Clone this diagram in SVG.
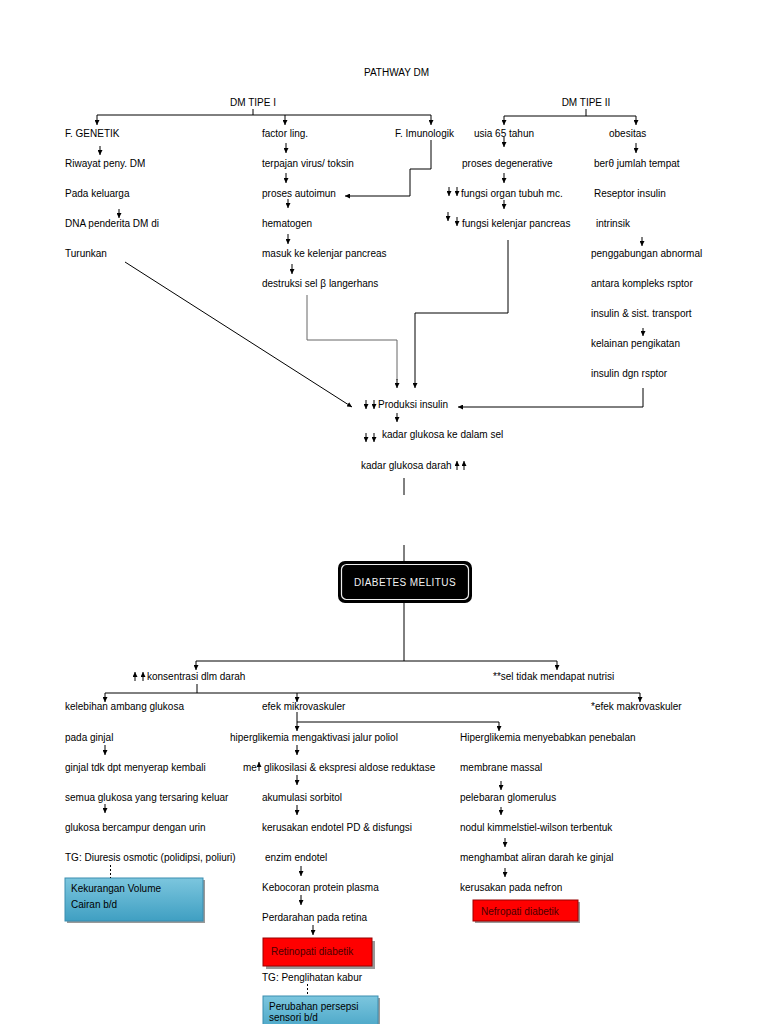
<svg xmlns="http://www.w3.org/2000/svg" width="768" height="1024" viewBox="0 0 768 1024">
<defs>
<style>
text{font-family:"Liberation Sans",Arial,sans-serif;font-size:10px;fill:#000}
.c{stroke:#000;stroke-width:1;fill:none}
.g{stroke:#666;stroke-width:1;fill:none}
.a{stroke:#000;stroke-width:1;fill:none;marker-end:url(#ah)}
.s{stroke:#000;stroke-width:1;fill:none;marker-end:url(#sh)}
.d{stroke:#000;stroke-width:1;stroke-dasharray:2,2;fill:none}
.blue{fill:url(#bg);stroke:#3a8db0;stroke-width:1}
.red{fill:#ff0000;stroke:#900;stroke-width:1}
.sh{fill:#999}
.rt{fill:#4a0000}
.w{fill:#f2f2f2;font-size:10px;letter-spacing:0.4px}
</style>
<linearGradient id="bg" x1="0" y1="0" x2="0" y2="1">
<stop offset="0" stop-color="#7cc6de"/>
<stop offset="1" stop-color="#3f9fc2"/>
</linearGradient>
<marker id="ah" viewBox="0 0 6 6" refX="6" refY="3" markerWidth="5" markerHeight="5" markerUnits="userSpaceOnUse" orient="auto">
<path d="M0,0 L6,3 L0,6 z" fill="#000"/>
</marker>
<marker id="sh" viewBox="0 0 6 6" refX="6" refY="3" markerWidth="5" markerHeight="5" markerUnits="userSpaceOnUse" orient="auto">
<path d="M0,0 L6,3 L0,6 z" fill="#000"/>
</marker>
</defs>
<rect width="768" height="1024" fill="#fff"/>

<g id="title"><text x="364" y="76">PATHWAY DM</text></g>
<g id="dm1"><text x="253" y="106" text-anchor="middle">DM TIPE I</text></g>
<g id="dm2"><text x="586" y="106" text-anchor="middle">DM TIPE II</text></g>

<g id="genetik"><text x="65" y="136.5">F. GENETIK</text></g>
<g id="riwayat"><text x="65" y="166.5">Riwayat peny. DM</text></g>
<g id="keluarga"><text x="65" y="196.5">Pada keluarga</text></g>
<g id="dna"><text x="65" y="226.5">DNA penderita DM di</text></g>
<g id="turunkan"><text x="65" y="256.5">Turunkan</text></g>

<g id="factor"><text x="262" y="136.5">factor ling.</text></g>
<g id="terpajan"><text x="262" y="166.5">terpajan virus/ toksin</text></g>
<g id="autoimun"><text x="262" y="196.5">proses autoimun</text></g>
<g id="hematogen"><text x="262" y="226.5">hematogen</text></g>
<g id="masuk"><text x="262" y="256.5">masuk ke kelenjar pancreas</text></g>
<g id="destruksi"><text x="262" y="286.5">destruksi sel β langerhans</text></g>
<g id="imunologik"><text x="395" y="136.5">F. Imunologik</text></g>

<g id="usia"><text x="474" y="136.5">usia 65 tahun</text></g>
<g id="degeneratif"><text x="462" y="166.5">proses degenerative</text></g>
<g id="organ"><text x="461" y="196.5">fungsi organ tubuh mc.</text></g>
<g id="kelenjar"><text x="462" y="226.5">fungsi kelenjar pancreas</text></g>

<g id="obesitas"><text x="609" y="136.5">obesitas</text></g>
<g id="berkurang"><text x="594" y="166.5">berθ jumlah tempat</text></g>
<g id="reseptor"><text x="594" y="196.5">Reseptor insulin</text></g>
<g id="intrinsik"><text x="596" y="226.5">intrinsik</text></g>
<g id="penggabungan"><text x="591" y="256.5">penggabungan abnormal</text></g>
<g id="antara"><text x="591" y="286.5">antara kompleks rsptor</text></g>
<g id="transport"><text x="591" y="316.5">insulin &amp; sist. transport</text></g>
<g id="kelainan"><text x="591" y="346.5">kelainan pengikatan</text></g>
<g id="dgn"><text x="591" y="376.5">insulin dgn rsptor</text></g>

<g id="produksi"><text x="378" y="407.5">Produksi insulin</text></g>
<g id="kadarsel"><text x="382" y="438">kadar glukosa ke dalam sel</text></g>
<g id="kadardarah"><text x="361" y="468.5">kadar glukosa darah</text></g>

<g id="dmbox">
<rect x="338" y="561" width="134" height="42" rx="7" fill="#000"/>
<rect x="341.5" y="564.5" width="127" height="35" rx="5" fill="none" stroke="#eee" stroke-width="1.2"/>
<text class="w" x="405" y="585.5" text-anchor="middle">DIABETES MELITUS</text>
</g>

<g id="konsentrasi"><text x="147" y="679.5">konsentrasi dlm darah</text></g>
<g id="nutrisi"><text x="493" y="679.5">**sel tidak mendapat nutrisi</text></g>
<g id="kelebihan"><text x="65" y="709.5">kelebihan ambang glukosa</text></g>
<g id="mikro"><text x="262" y="709.5">efek mikrovaskuler</text></g>
<g id="makro"><text x="591" y="709.5">*efek makrovaskuler</text></g>

<g id="ginjal"><text x="65" y="740.5">pada ginjal</text></g>
<g id="menyerap"><text x="65" y="770.5">ginjal tdk dpt menyerap kembali</text></g>
<g id="semua"><text x="65" y="800.5">semua glukosa yang tersaring keluar</text></g>
<g id="urin"><text x="65" y="830.5">glukosa bercampur dengan urin</text></g>
<g id="diuresis"><text x="65" y="860.5">TG: Diuresis osmotic (polidipsi, poliuri)</text></g>
<g id="kekurangan">
<rect x="67" y="880" width="138" height="43" class="sh"/>
<rect x="65" y="878" width="138" height="43" class="blue"/>
<text x="71" y="891.5">Kekurangan Volume</text>
<text x="71" y="907.5">Cairan b/d</text>
</g>

<g id="poliol"><text x="230" y="740.5">hiperglikemia mengaktivasi jalur poliol</text></g>
<g id="glikosilasi"><text x="243" y="770.5">me</text><text x="264" y="770.5">glikosilasi &amp; ekspresi aldose reduktase</text></g>
<g id="sorbitol"><text x="262" y="800.5">akumulasi sorbitol</text></g>
<g id="endotel"><text x="262" y="830.5">kerusakan endotel PD &amp; disfungsi</text></g>
<g id="enzim"><text x="265" y="860.5">enzim endotel</text></g>
<g id="kebocoran"><text x="262" y="890.5">Kebocoran protein plasma</text></g>
<g id="perdarahan"><text x="262" y="920.5">Perdarahan pada retina</text></g>
<g id="retinopati">
<rect x="266" y="941" width="109" height="28" class="sh"/>
<rect x="263" y="938" width="109" height="28" class="red"/>
<text class="rt" x="271" y="955">Retinopati diabetik</text>
</g>
<g id="kabur"><text x="262" y="980.5">TG: Penglihatan kabur</text></g>
<g id="persepsi">
<rect x="265" y="998" width="115" height="40" class="sh"/>
<rect x="263" y="996" width="115" height="40" class="blue"/>
<text x="269" y="1010">Perubahan persepsi</text>
<text x="269" y="1021">sensori b/d</text>
</g>

<g id="penebalan"><text x="460" y="740.5">Hiperglikemia menyebabkan penebalan</text></g>
<g id="membrane"><text x="460" y="770.5">membrane massal</text></g>
<g id="glomerulus"><text x="460" y="800.5">pelebaran glomerulus</text></g>
<g id="nodul"><text x="460" y="830.5">nodul kimmelstiel-wilson terbentuk</text></g>
<g id="aliran"><text x="460" y="860.5">menghambat aliran darah ke ginjal</text></g>
<g id="nefron"><text x="460" y="890.5">kerusakan pada nefron</text></g>
<g id="nefropati">
<rect x="475" y="902" width="105" height="21" class="sh"/>
<rect x="473" y="900" width="105" height="21" class="red"/>
<text class="rt" x="481" y="914.5">Nefropati diabetik</text>
</g>

<g id="connectors">
<path class="c" d="M253,109 V115 M97,115 H431 M586,109 V116 M504,116 H636"/>
<line class="a" x1="97" y1="115" x2="97" y2="125"/>
<line class="a" x1="285" y1="115" x2="285" y2="125"/>
<line class="a" x1="431" y1="115" x2="431" y2="125"/>
<line class="a" x1="504" y1="116" x2="504" y2="125"/>
<line class="a" x1="636" y1="116" x2="636" y2="125"/>

<line class="a" x1="100" y1="146" x2="100" y2="155"/>
<line class="a" x1="119" y1="209" x2="119" y2="218"/>
<line class="a" x1="286" y1="143" x2="286" y2="153"/>
<line class="a" x1="286" y1="173" x2="286" y2="183"/>
<line class="a" x1="288" y1="199" x2="288" y2="208"/>
<line class="a" x1="288" y1="234" x2="288" y2="244"/>
<line class="a" x1="292" y1="264" x2="292" y2="274"/>

<line class="a" x1="504" y1="137" x2="504" y2="147"/>
<line class="a" x1="504" y1="173" x2="504" y2="183"/>
<line class="a" x1="504" y1="200" x2="504" y2="209"/>
<line class="s" x1="449" y1="187" x2="449" y2="196"/>
<line class="s" x1="457" y1="187" x2="457" y2="196"/>
<line class="s" x1="448" y1="212" x2="448" y2="221"/>
<line class="s" x1="457" y1="217" x2="457" y2="226"/>
<line class="a" x1="636" y1="143" x2="636" y2="153"/>
<line class="a" x1="642" y1="237" x2="642" y2="246"/>
<line class="a" x1="643" y1="328" x2="643" y2="336"/>

<path class="a" d="M431,140 V169 H410 V196 H345"/>
<path class="g" d="M307,295 V340 H397 V380"/>
<line class="a" x1="397" y1="379" x2="397" y2="388"/>
<path class="a" d="M508,240 V313 H415 V388"/>
<path class="a" d="M643,388 V407 H458"/>
<line class="a" x1="125" y1="262" x2="352" y2="407"/>

<line class="s" x1="366" y1="400" x2="366" y2="409"/>
<line class="s" x1="374" y1="400" x2="374" y2="409"/>
<line class="a" x1="397" y1="413" x2="397" y2="422"/>
<line class="s" x1="366" y1="433" x2="366" y2="442"/>
<line class="s" x1="374" y1="433" x2="374" y2="442"/>
<line class="s" x1="457" y1="470" x2="457" y2="461"/>
<line class="s" x1="464" y1="470" x2="464" y2="461"/>
<path class="c" d="M404,478 V495 M404,545 V561 M404,603 V661 M196,661 H557"/>
<line class="a" x1="196" y1="661" x2="196" y2="670"/>
<line class="a" x1="557" y1="661" x2="557" y2="670"/>

<line class="s" x1="135" y1="681" x2="135" y2="672"/>
<line class="s" x1="143" y1="681" x2="143" y2="672"/>
<path class="c" d="M197,684 V693 M105,693 H640"/>
<line class="a" x1="105" y1="693" x2="105" y2="702"/>
<line class="a" x1="297" y1="693" x2="297" y2="702"/>
<line class="a" x1="640" y1="693" x2="640" y2="702"/>

<line class="a" x1="297" y1="712" x2="297" y2="731"/>
<path class="a" d="M297,722 H499 V731"/>

<line class="a" x1="105" y1="745" x2="105" y2="755"/>
<line class="a" x1="105" y1="804" x2="105" y2="813"/>
<line class="d" x1="110.5" y1="865" x2="110.5" y2="878"/>

<line class="a" x1="297" y1="745" x2="297" y2="755"/>
<line class="s" x1="259" y1="771" x2="259" y2="762"/>
<line class="a" x1="297" y1="775" x2="297" y2="785"/>
<line class="a" x1="297" y1="805" x2="297" y2="815"/>
<line class="a" x1="301" y1="866" x2="301" y2="876"/>
<line class="a" x1="301" y1="895" x2="301" y2="905"/>
<line class="a" x1="313" y1="925" x2="313" y2="935"/>
<line class="d" x1="307.5" y1="984" x2="307.5" y2="996"/>

<line class="a" x1="501" y1="781" x2="501" y2="790"/>
<line class="a" x1="501" y1="807" x2="501" y2="815"/>
<line class="a" x1="505" y1="838" x2="505" y2="847"/>
<line class="a" x1="505" y1="868" x2="505" y2="877"/>
</g>
</svg>
